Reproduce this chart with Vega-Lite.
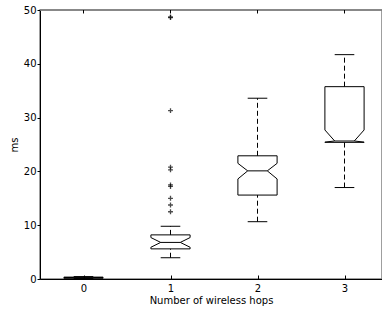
{
  "$schema": "https://vega.github.io/schema/vega-lite/v6.json",
  "width": 342,
  "height": 269,
  "autosize": {"type": "none"},
  "padding": {"left": 40, "top": 10, "right": 0, "bottom": 30},
  "background": "white",
  "config": {
    "view": {"stroke": "#808080", "strokeWidth": 1.5},
    "font": "DejaVu Sans",
    "axis": {"labelFont": "DejaVu Sans", "titleFont": "DejaVu Sans", "labelFontSize": 10, "titleFontSize": 10, "titleFontWeight": "normal", "labelColor": "black", "titleColor": "black", "domainColor": "black", "tickColor": "black", "grid": false, "domainWidth": 1, "tickWidth": 1}
  },
  "datasets": {
    "boxes": [
      {"hop": 0, "whislo": 0.1, "q1": 0.15, "nlo": 0.22, "med": 0.25, "nhi": 0.28, "q3": 0.35, "whishi": 0.45},
      {"hop": 1, "whislo": 3.95, "q1": 5.6, "nlo": 5.9, "med": 6.8, "nhi": 7.7, "q3": 8.2, "whishi": 9.8},
      {"hop": 2, "whislo": 10.65, "q1": 15.6, "nlo": 18.6, "med": 20.1, "nhi": 21.5, "q3": 22.9, "whishi": 33.6},
      {"hop": 3, "whislo": 17.0, "q1": 25.4, "nlo": 25.45, "med": 25.65, "nhi": 27.7, "q3": 35.75, "whishi": 41.7}
    ],
    "fliers": [
      {"hop": 1, "ms": 48.7}, {"hop": 1, "ms": 48.6}, {"hop": 1, "ms": 31.3},
      {"hop": 1, "ms": 20.8}, {"hop": 1, "ms": 20.3}, {"hop": 1, "ms": 17.5},
      {"hop": 1, "ms": 17.2}, {"hop": 1, "ms": 15.0}, {"hop": 1, "ms": 13.75},
      {"hop": 1, "ms": 12.5}
    ],
    "frame": [{"top": 50}]
  },
  "layer": [
    {
      "data": {"name": "fliers"},
      "mark": {"type": "point", "shape": "M-1,0L1,0M0,-1L0,1", "size": 24, "filled": false, "stroke": "black", "strokeWidth": 1.3},
      "encoding": {
        "x": {"field": "hop", "type": "quantitative", "scale": {"domain": [-0.5, 3.431], "nice": false, "zero": false},
              "axis": {"orient": "bottom", "values": [0, 1, 2, 3], "format": "d", "tickSize": -4, "labelPadding": 8, "title": "Number of wireless hops", "titlePadding": 2}},
        "y": {"field": "ms", "type": "quantitative", "scale": {"domain": [0, 50], "nice": false},
              "axis": {"values": [0, 10, 20, 30, 40, 50], "tickSize": 3, "labelPadding": 1, "title": "ms", "titlePadding": 4}}
      }
    },
    {
      "data": {"name": "frame"},
      "mark": {"type": "rule", "stroke": "#808080", "strokeWidth": 1.5},
      "encoding": {
        "y": {"field": "top", "type": "quantitative"}
      }
    },
    {
      "data": {"name": "boxes"},
      "mark": {"type": "rule", "stroke": "black"},
      "encoding": {
        "x": {"field": "hop", "type": "quantitative"},
        "y": {"datum": 50, "type": "quantitative"},
        "y2": {"datum": 49.35}
      }
    },
    {
      "data": {"name": "boxes"},
      "mark": {"type": "rule", "stroke": "black", "strokeDash": [5, 3]},
      "encoding": {
        "x": {"field": "hop", "type": "quantitative"},
        "y": {"field": "whislo", "type": "quantitative"},
        "y2": {"field": "q1"}
      }
    },
    {
      "data": {"name": "boxes"},
      "mark": {"type": "rule", "stroke": "black", "strokeDash": [5, 3]},
      "encoding": {
        "x": {"field": "hop", "type": "quantitative"},
        "y": {"field": "q3", "type": "quantitative"},
        "y2": {"field": "whishi"}
      }
    },
    {
      "data": {"name": "boxes"},
      "mark": {"type": "rule", "stroke": "black", "xOffset": -9.8, "x2Offset": 9.8},
      "encoding": {
        "x": {"field": "hop", "type": "quantitative"},
        "x2": {"field": "hop"},
        "y": {"field": "whislo", "type": "quantitative"}
      }
    },
    {
      "data": {"name": "boxes"},
      "mark": {"type": "rule", "stroke": "black", "xOffset": -9.8, "x2Offset": 9.8},
      "encoding": {
        "x": {"field": "hop", "type": "quantitative"},
        "x2": {"field": "hop"},
        "y": {"field": "whishi", "type": "quantitative"}
      }
    },
    {
      "data": {"name": "boxes"},
      "mark": {"type": "rule", "stroke": "black", "xOffset": -19.6},
      "encoding": {
        "x": {"field": "hop", "type": "quantitative"},
        "y": {"field": "q1", "type": "quantitative"},
        "y2": {"field": "nlo"}
      }
    },
    {
      "data": {"name": "boxes"},
      "mark": {"type": "rule", "stroke": "black", "xOffset": 19.6},
      "encoding": {
        "x": {"field": "hop", "type": "quantitative"},
        "y": {"field": "q1", "type": "quantitative"},
        "y2": {"field": "nlo"}
      }
    },
    {
      "data": {"name": "boxes"},
      "mark": {"type": "rule", "stroke": "black", "xOffset": -19.6},
      "encoding": {
        "x": {"field": "hop", "type": "quantitative"},
        "y": {"field": "nhi", "type": "quantitative"},
        "y2": {"field": "q3"}
      }
    },
    {
      "data": {"name": "boxes"},
      "mark": {"type": "rule", "stroke": "black", "xOffset": 19.6},
      "encoding": {
        "x": {"field": "hop", "type": "quantitative"},
        "y": {"field": "nhi", "type": "quantitative"},
        "y2": {"field": "q3"}
      }
    },
    {
      "data": {"name": "boxes"},
      "mark": {"type": "rule", "stroke": "black", "xOffset": -19.6, "x2Offset": -9.8},
      "encoding": {
        "x": {"field": "hop", "type": "quantitative"},
        "x2": {"field": "hop"},
        "y": {"field": "nlo", "type": "quantitative"},
        "y2": {"field": "med"}
      }
    },
    {
      "data": {"name": "boxes"},
      "mark": {"type": "rule", "stroke": "black", "xOffset": -9.8, "x2Offset": -19.6},
      "encoding": {
        "x": {"field": "hop", "type": "quantitative"},
        "x2": {"field": "hop"},
        "y": {"field": "med", "type": "quantitative"},
        "y2": {"field": "nhi"}
      }
    },
    {
      "data": {"name": "boxes"},
      "mark": {"type": "rule", "stroke": "black", "xOffset": 19.6, "x2Offset": 9.8},
      "encoding": {
        "x": {"field": "hop", "type": "quantitative"},
        "x2": {"field": "hop"},
        "y": {"field": "nlo", "type": "quantitative"},
        "y2": {"field": "med"}
      }
    },
    {
      "data": {"name": "boxes"},
      "mark": {"type": "rule", "stroke": "black", "xOffset": 9.8, "x2Offset": 19.6},
      "encoding": {
        "x": {"field": "hop", "type": "quantitative"},
        "x2": {"field": "hop"},
        "y": {"field": "med", "type": "quantitative"},
        "y2": {"field": "nhi"}
      }
    },
    {
      "data": {"name": "boxes"},
      "mark": {"type": "rule", "stroke": "black", "xOffset": -19.6, "x2Offset": 19.6},
      "encoding": {
        "x": {"field": "hop", "type": "quantitative"},
        "x2": {"field": "hop"},
        "y": {"field": "q3", "type": "quantitative"}
      }
    },
    {
      "data": {"name": "boxes"},
      "mark": {"type": "rule", "stroke": "black", "xOffset": -19.6, "x2Offset": 19.6},
      "encoding": {
        "x": {"field": "hop", "type": "quantitative"},
        "x2": {"field": "hop"},
        "y": {"field": "q1", "type": "quantitative"}
      }
    },
    {
      "data": {"name": "boxes"},
      "mark": {"type": "rule", "stroke": "black", "xOffset": -9.8, "x2Offset": 9.8},
      "encoding": {
        "x": {"field": "hop", "type": "quantitative"},
        "x2": {"field": "hop"},
        "y": {"field": "med", "type": "quantitative"}
      }
    }
  ]
}
